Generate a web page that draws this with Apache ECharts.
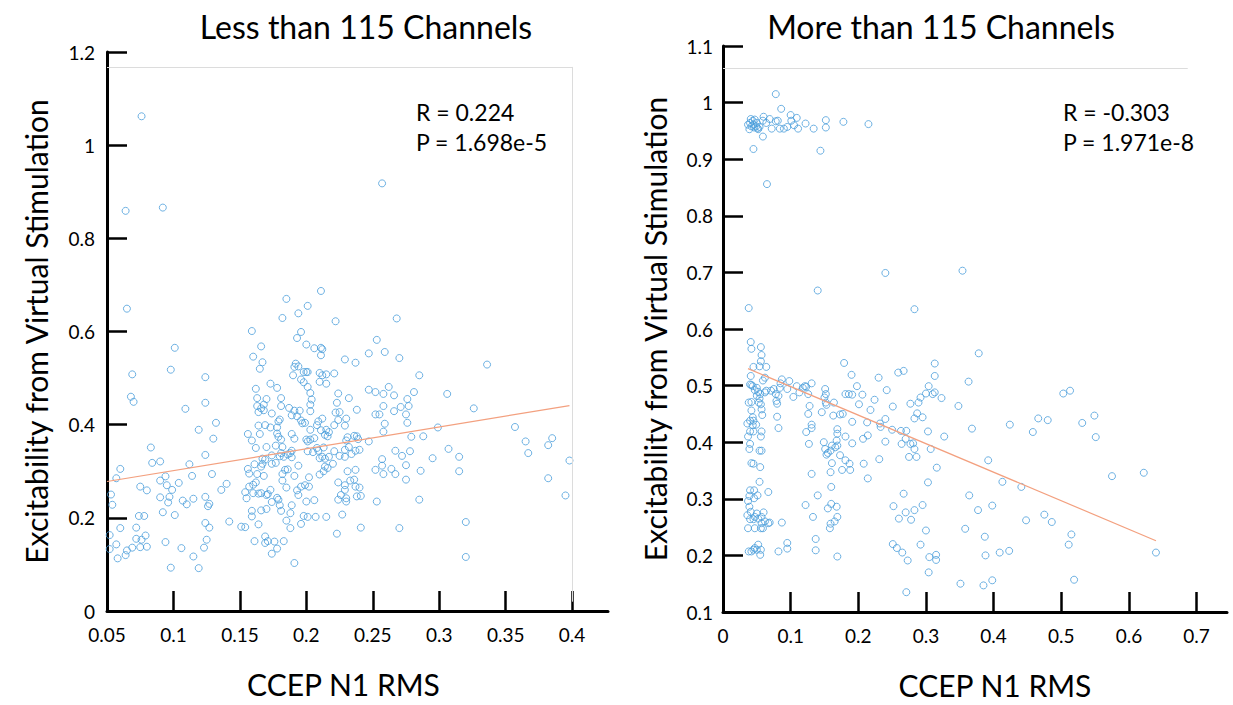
<!DOCTYPE html>
<html>
<head>
<meta charset="utf-8">
<script src="https://cdn.jsdelivr.net/npm/echarts@6/dist/echarts.min.js"></script>
<style>html,body{margin:0;padding:0;background:#fff}#c{width:1233px;height:705px}</style>
</head>
<body>
<div id="c"></div>
<script>
// ---------- data ----------
const titles = ['Less than 115 Channels', 'More than 115 Channels'];
const xName = 'CCEP N1 RMS';
const yName = 'Excitability from Virtual Stimulation';
const statsLeft = ['R = 0.224', 'P = 1.698e-5'];
const statsRight = ['R = -0.303', 'P = 1.971e-8'];

const leftXTicks = [0.05, 0.1, 0.15, 0.2, 0.25, 0.3, 0.35, 0.4];
const leftYTicks = [0, 0.2, 0.4, 0.6, 0.8, 1, 1.2];
const rightXTicks = [0, 0.1, 0.2, 0.3, 0.4, 0.5, 0.6, 0.7];
const rightYTicks = [0.1, 0.2, 0.3, 0.4, 0.5, 0.6, 0.7, 0.8, 0.9, 1, 1.1];

const leftFit = [[0.05, 0.278], [0.398, 0.441]];
const rightFit = [[0.037, 0.530], [0.64, 0.226]];

const leftPoints = [
[0.076,1.062],[0.064,0.859],[0.092,0.866],[0.257,0.918],[0.065,0.649],[0.159,0.601],[0.185,0.670],[0.182,0.629],[0.194,0.639],[0.201,0.655],[0.211,0.687],[0.222,0.622],[0.196,0.599],[0.193,0.586],[0.253,0.582],[0.268,0.628],
[0.101,0.565],[0.098,0.518],[0.069,0.508],[0.068,0.460],[0.070,0.449],[0.124,0.502],[0.124,0.447],[0.109,0.434],[0.119,0.389],[0.132,0.404],[0.130,0.370],[0.124,0.335],[0.083,0.351],[0.084,0.318],[0.090,0.321],[0.112,0.315],[0.114,0.290],[0.129,0.294],[0.140,0.273],[0.136,0.260],[0.060,0.305],[0.057,0.285],[0.053,0.250],[0.054,0.228],[0.075,0.267],[0.080,0.259],[0.090,0.280],[0.094,0.289],[0.095,0.270],[0.099,0.260],[0.104,0.275],[0.090,0.244],[0.097,0.245],[0.096,0.233],[0.107,0.237],[0.110,0.229],[0.115,0.241],[0.124,0.245],[0.127,0.230],[0.126,0.225],[0.092,0.212],[0.101,0.206],[0.074,0.204],[0.078,0.204],[0.060,0.178],[0.072,0.179],[0.052,0.163],[0.079,0.162],[0.072,0.155],[0.076,0.153],[0.075,0.137],[0.080,0.138],[0.069,0.136],[0.065,0.130],[0.064,0.120],[0.057,0.143],[0.058,0.113],[0.052,0.133],[0.094,0.148],[0.106,0.135],[0.098,0.093],[0.115,0.117],[0.119,0.092],[0.123,0.136],[0.125,0.153],[0.124,0.189],[0.127,0.179],[0.142,0.192],[0.151,0.181],[0.154,0.180],
[0.160,0.546],[0.166,0.568],[0.167,0.534],[0.165,0.520],[0.162,0.477],[0.163,0.457],[0.163,0.440],[0.164,0.427],[0.166,0.435],[0.168,0.443],[0.170,0.455],[0.168,0.431],[0.173,0.488],[0.178,0.479],[0.174,0.424],[0.181,0.457],[0.181,0.440],[0.169,0.399],[0.173,0.394],[0.164,0.398],[0.165,0.380],[0.156,0.380],[0.159,0.366],[0.162,0.350],[0.178,0.394],[0.179,0.407],[0.180,0.411],[0.178,0.381],[0.179,0.374],[0.182,0.352],[0.170,0.352],[0.177,0.355],[0.181,0.368],[0.174,0.334],[0.169,0.325],[0.167,0.327],[0.161,0.315],[0.166,0.310],[0.167,0.316],[0.156,0.305],[0.157,0.295],[0.163,0.294],[0.168,0.290],[0.162,0.276],[0.160,0.271],[0.157,0.267],[0.154,0.255],[0.155,0.242],[0.160,0.253],[0.164,0.252],[0.166,0.253],[0.170,0.249],[0.173,0.260],[0.171,0.251],[0.174,0.316],[0.177,0.318],[0.180,0.332],[0.181,0.339],[0.183,0.331],[0.186,0.336],[0.188,0.339],[0.189,0.344],[0.189,0.330],[0.184,0.303],[0.182,0.294],[0.186,0.304],[0.185,0.265],[0.182,0.280],[0.179,0.239],[0.180,0.227],[0.181,0.215],[0.178,0.243],[0.174,0.234],[0.170,0.219],[0.166,0.216],[0.159,0.215],[0.159,0.203],[0.164,0.186],[0.161,0.150],[0.169,0.160],[0.169,0.146],[0.171,0.150],[0.176,0.149],[0.183,0.150],[0.178,0.134],[0.174,0.123],[0.185,0.194],[0.188,0.178],[0.189,0.227],[0.188,0.210],[0.191,0.103],[0.196,0.187],[0.198,0.204],[0.201,0.202],[0.207,0.202],[0.215,0.202],[0.200,0.235],[0.206,0.238],[0.193,0.259],[0.194,0.249],[0.196,0.267],[0.199,0.270],[0.202,0.267],[0.202,0.287],[0.210,0.293],[0.213,0.300],[0.216,0.307],[0.214,0.310],[0.220,0.316],[0.217,0.331],[0.212,0.331],[0.210,0.328],[0.214,0.327],[0.221,0.343],[0.225,0.333],[0.229,0.331],[0.229,0.346],[0.230,0.366],[0.231,0.373],[0.236,0.376],[0.238,0.375],[0.239,0.369],[0.237,0.344],[0.234,0.337],[0.232,0.352],[0.240,0.346],[0.247,0.364],[0.252,0.303],[0.267,0.344],[0.272,0.333],[0.275,0.313],[0.257,0.326],[0.257,0.312],[0.258,0.294],[0.264,0.305],[0.267,0.294],[0.275,0.282],[0.224,0.276],[0.224,0.239],[0.226,0.249],[0.229,0.260],[0.229,0.270],[0.230,0.242],[0.230,0.235],[0.233,0.280],[0.231,0.300],[0.237,0.303],[0.236,0.282],[0.237,0.267],[0.240,0.265],[0.238,0.246],[0.241,0.247],[0.227,0.207],[0.223,0.166],[0.241,0.179],[0.253,0.235],[0.270,0.178],[0.191,0.290],[0.194,0.312],[0.200,0.368],[0.201,0.364],[0.203,0.368],[0.206,0.371],[0.201,0.343],[0.205,0.341],[0.208,0.350],[0.213,0.351],[0.209,0.344],[0.216,0.375],[0.214,0.378],[0.217,0.384],[0.211,0.388],[0.215,0.389],[0.208,0.399],[0.203,0.389],[0.209,0.407],[0.212,0.413],[0.221,0.399],[0.224,0.410],[0.225,0.427],[0.222,0.426],[0.223,0.447],[0.224,0.467],[0.229,0.398],[0.230,0.413],[0.232,0.457],[0.229,0.540],[0.237,0.533],[0.247,0.553],[0.259,0.556],[0.270,0.543],[0.247,0.475],[0.252,0.470],[0.258,0.466],[0.262,0.481],[0.266,0.463],[0.276,0.455],[0.271,0.438],[0.266,0.429],[0.258,0.440],[0.255,0.422],[0.252,0.422],[0.259,0.402],[0.258,0.385],[0.238,0.432],[0.192,0.531],[0.191,0.524],[0.194,0.525],[0.190,0.506],[0.196,0.497],[0.198,0.491],[0.201,0.481],[0.203,0.468],[0.204,0.454],[0.203,0.443],[0.203,0.429],[0.198,0.513],[0.200,0.513],[0.201,0.513],[0.210,0.511],[0.212,0.506],[0.215,0.508],[0.210,0.492],[0.215,0.488],[0.221,0.510],[0.200,0.572],[0.206,0.564],[0.211,0.565],[0.212,0.562],[0.211,0.549],[0.191,0.430],[0.195,0.430],[0.189,0.420],[0.193,0.418],[0.196,0.409],[0.197,0.403],[0.199,0.404],[0.187,0.436],[0.189,0.380],[0.191,0.370],[0.276,0.404],[0.275,0.422],[0.277,0.440],
[0.285,0.506],[0.281,0.470],[0.306,0.466],[0.336,0.529],[0.326,0.435],[0.299,0.394],[0.279,0.374],[0.288,0.375],[0.278,0.343],[0.307,0.348],[0.295,0.328],[0.315,0.331],[0.315,0.300],[0.286,0.301],[0.285,0.239],[0.320,0.191],[0.320,0.116],[0.357,0.395],[0.365,0.364],[0.367,0.339],[0.385,0.371],[0.382,0.356],[0.382,0.285],[0.398,0.323],[0.395,0.248]
];

const rightPoints = [
[0.078,1.015],[0.086,0.989],[0.100,0.978],[0.109,0.973],[0.101,0.968],[0.105,0.960],[0.111,0.954],[0.095,0.957],[0.090,0.954],[0.084,0.954],[0.081,0.968],[0.078,0.967],[0.069,0.971],[0.072,0.954],[0.060,0.975],[0.059,0.968],[0.064,0.964],[0.059,0.940],[0.045,0.918],[0.065,0.856],[0.122,0.963],[0.134,0.954],[0.152,0.969],[0.152,0.956],[0.144,0.915],[0.178,0.966],[0.215,0.962],[0.039,0.953],[0.040,0.964],[0.041,0.971],[0.044,0.968],[0.045,0.961],[0.046,0.956],[0.049,0.958],[0.051,0.955],[0.052,0.953],[0.054,0.957],[0.047,0.970],[0.042,0.958],[0.037,0.961],[0.050,0.964],[0.240,0.699],[0.354,0.703],[0.140,0.668],[0.038,0.637],[0.283,0.635],
[0.041,0.577],[0.042,0.565],[0.056,0.568],[0.057,0.554],[0.056,0.543],[0.054,0.534],[0.045,0.533],[0.064,0.533],[0.041,0.517],[0.062,0.514],[0.059,0.509],[0.040,0.502],[0.042,0.501],[0.044,0.499],[0.050,0.496],[0.047,0.492],[0.052,0.489],[0.055,0.485],[0.050,0.482],[0.054,0.477],[0.062,0.488],[0.064,0.491],[0.038,0.470],[0.042,0.471],[0.053,0.470],[0.056,0.467],[0.057,0.458],[0.058,0.448],[0.042,0.456],[0.044,0.444],[0.040,0.438],[0.045,0.438],[0.049,0.431],[0.044,0.430],[0.036,0.433],[0.040,0.419],[0.045,0.419],[0.037,0.410],[0.057,0.419],[0.056,0.410],[0.040,0.397],[0.039,0.388],[0.054,0.385],[0.057,0.385],[0.042,0.363],[0.045,0.362],[0.055,0.356],[0.054,0.330],[0.040,0.315],[0.046,0.315],[0.051,0.306],[0.046,0.301],[0.039,0.305],[0.037,0.296],[0.039,0.286],[0.041,0.277],[0.036,0.271],[0.050,0.274],[0.052,0.265],[0.045,0.264],[0.040,0.264],[0.047,0.268],[0.057,0.268],[0.056,0.248],[0.059,0.248],[0.057,0.257],[0.062,0.260],[0.067,0.257],[0.069,0.258],[0.037,0.248],[0.047,0.248],[0.060,0.276],[0.038,0.207],[0.042,0.207],[0.045,0.210],[0.047,0.213],[0.050,0.210],[0.052,0.219],[0.056,0.210],[0.055,0.201],[0.067,0.312],[0.087,0.258],
[0.071,0.491],[0.075,0.494],[0.078,0.485],[0.082,0.482],[0.079,0.473],[0.080,0.468],[0.084,0.496],[0.085,0.504],[0.087,0.511],[0.098,0.508],[0.095,0.494],[0.104,0.480],[0.109,0.499],[0.113,0.488],[0.118,0.496],[0.121,0.499],[0.123,0.498],[0.126,0.485],[0.131,0.504],[0.080,0.445],[0.082,0.425],[0.128,0.464],[0.126,0.450],[0.131,0.431],[0.131,0.425],[0.123,0.418],[0.127,0.397],[0.131,0.344],[0.140,0.306],[0.133,0.268],[0.122,0.289],[0.137,0.229],[0.137,0.209],[0.095,0.222],[0.095,0.212],[0.082,0.207],[0.151,0.494],[0.152,0.485],[0.150,0.479],[0.152,0.470],[0.153,0.466],[0.146,0.453],[0.164,0.470],[0.163,0.447],[0.173,0.449],[0.177,0.450],[0.149,0.400],[0.151,0.388],[0.155,0.381],[0.153,0.378],[0.159,0.385],[0.161,0.394],[0.166,0.391],[0.169,0.394],[0.168,0.403],[0.169,0.415],[0.173,0.377],[0.169,0.423],[0.161,0.363],[0.159,0.347],[0.160,0.321],[0.160,0.291],[0.155,0.283],[0.168,0.286],[0.169,0.268],[0.159,0.256],[0.158,0.248],[0.165,0.260],[0.169,0.198],
[0.179,0.540],[0.190,0.519],[0.181,0.485],[0.186,0.485],[0.191,0.484],[0.198,0.499],[0.206,0.484],[0.201,0.467],[0.191,0.436],[0.181,0.410],[0.191,0.398],[0.181,0.368],[0.187,0.362],[0.188,0.351],[0.176,0.351],[0.208,0.362],[0.214,0.336],[0.207,0.406],[0.214,0.412],[0.213,0.435],[0.218,0.457],[0.224,0.475],[0.230,0.514],[0.232,0.433],[0.233,0.427],[0.240,0.441],[0.240,0.401],[0.231,0.370],[0.242,0.492],[0.251,0.463],[0.250,0.422],[0.259,0.523],[0.267,0.526],[0.263,0.420],[0.264,0.397],[0.270,0.406],[0.271,0.420],[0.277,0.397],[0.275,0.374],[0.267,0.309],[0.252,0.287],[0.260,0.265],[0.270,0.276],[0.278,0.263],[0.283,0.280],[0.295,0.289],[0.251,0.220],[0.257,0.213],[0.265,0.205],[0.273,0.191],[0.271,0.135],[0.292,0.219],[0.300,0.244],[0.305,0.197],[0.315,0.201],[0.315,0.192],[0.304,0.170],[0.286,0.374],[0.283,0.388],[0.281,0.398],[0.283,0.442],[0.287,0.451],[0.289,0.470],[0.292,0.479],[0.300,0.486],[0.304,0.499],[0.313,0.539],[0.313,0.517],[0.303,0.419],[0.307,0.388],[0.316,0.355],[0.303,0.329],[0.313,0.488],[0.323,0.478],[0.327,0.410],[0.277,0.468],[0.295,0.444],[0.310,0.485],
[0.378,0.557],[0.363,0.507],[0.348,0.464],[0.368,0.424],[0.392,0.368],[0.413,0.330],[0.441,0.321],[0.364,0.306],[0.377,0.280],[0.398,0.288],[0.358,0.247],[0.387,0.233],[0.388,0.200],[0.409,0.205],[0.423,0.208],[0.351,0.150],[0.385,0.147],[0.398,0.156],[0.424,0.431],[0.458,0.418],[0.466,0.442],[0.480,0.439],[0.503,0.486],[0.513,0.491],[0.531,0.434],[0.549,0.447],[0.551,0.409],[0.575,0.340],[0.622,0.346],[0.448,0.262],[0.475,0.272],[0.486,0.259],[0.515,0.237],[0.511,0.219],[0.519,0.157],[0.640,0.205]
];

// ---------- styling / layout ----------
const FONT = 'Lato, "Open Sans", sans-serif';
const DOT = '#4a9ddb';
const FIT = '#f3a07f';
const FRAME = '#dcdcdc';
// light plot-area frame (decoration), in data units
const leftFrame = [[[0.05, 1.168], [0.4, 1.168]], [[0.4, 1.168], [0.4, 0.02]]];
const rightFrame = [[[0, 1.061], [0.687, 1.061]]];

function xAxisOf(i, min, max, ticks, pad) {
  return {
    type: 'value', gridIndex: i, min: min, max: max,
    axisLine: { onZero: false, lineStyle: { color: '#000', width: 3 } },
    axisTick: { inside: true, length: 20, customValues: ticks, lineStyle: { color: '#000', width: 2.5 } },
    axisLabel: { customValues: ticks, color: '#000', fontSize: 19, fontFamily: FONT, margin: 14 },
    splitLine: { show: false },
    name: xName, nameLocation: 'middle', nameGap: 58,
    nameTextStyle: { color: '#000', fontSize: 30, fontFamily: FONT, padding: pad }
  };
}
function yAxisOf(i, min, max, ticks, gap, margin) {
  return {
    type: 'value', gridIndex: i, min: min, max: max,
    axisLine: { onZero: false, lineStyle: { color: '#000', width: 3 } },
    axisTick: { inside: true, length: 20, customValues: ticks, lineStyle: { color: '#000', width: 2.5 } },
    axisLabel: { customValues: ticks, color: '#000', fontSize: 19, fontFamily: FONT, margin: margin },
    splitLine: { show: false },
    name: yName, nameLocation: 'middle', nameGap: gap, nameRotate: 90,
    nameTextStyle: { color: '#000', fontSize: 30, fontFamily: FONT }
  };
}
function frameLines(segs) {
  return {
    silent: true, symbol: 'none', label: { show: false }, animation: false,
    lineStyle: { color: FRAME, width: 1, type: 'solid' },
    data: segs.map(s => [{ coord: s[0] }, { coord: s[1] }])
  };
}
function textEl(x, y, text, size, align) {
  return { type: 'text', x: x, y: y, silent: true,
    style: { text: text, fill: '#000', font: size + 'px ' + FONT, textAlign: align, textVerticalAlign: 'middle' } };
}

const chart = echarts.init(document.getElementById('c'), null, { renderer: 'svg' });
chart.setOption({
  animation: false,
  backgroundColor: '#fff',
  grid: [
    { left: 107, top: 52, width: 501, bottom: 94 },
    { left: 723, top: 46, width: 504, bottom: 89 }
  ],
  xAxis: [
    xAxisOf(0, 0.05, 0.427, leftXTicks, [0, 28, 0, 0]),
    xAxisOf(1, 0, 0.745, rightXTicks, [0, 0, 0, 40])
  ],
  yAxis: [
    yAxisOf(0, 0, 1.2, leftYTicks, 56, 12),
    yAxisOf(1, 0.1, 1.1, rightYTicks, 53, 10)
  ],
  series: [
    { type: 'scatter', xAxisIndex: 0, yAxisIndex: 0, data: leftPoints, symbol: 'circle', symbolSize: 7,
      itemStyle: { color: 'rgba(0,0,0,0)', borderColor: DOT, borderWidth: 1 }, markLine: frameLines(leftFrame) },
    { type: 'line', xAxisIndex: 0, yAxisIndex: 0, data: leftFit, symbol: 'none', lineStyle: { color: FIT, width: 1.2 } },
    { type: 'scatter', xAxisIndex: 1, yAxisIndex: 1, data: rightPoints, symbol: 'circle', symbolSize: 7,
      itemStyle: { color: 'rgba(0,0,0,0)', borderColor: DOT, borderWidth: 1 }, markLine: frameLines(rightFrame) },
    { type: 'line', xAxisIndex: 1, yAxisIndex: 1, data: rightFit, symbol: 'none', lineStyle: { color: FIT, width: 1.2 } }
  ],
  graphic: [
    textEl(366, 26, titles[0], 32, 'center'),
    textEl(941, 26, titles[1], 32, 'center'),
    textEl(416, 112, statsLeft[0], 23, 'left'),
    textEl(416, 142, statsLeft[1], 23, 'left'),
    textEl(1063, 112, statsRight[0], 23, 'left'),
    textEl(1063, 142, statsRight[1], 23, 'left')
  ]
});
</script>
</body>
</html>
